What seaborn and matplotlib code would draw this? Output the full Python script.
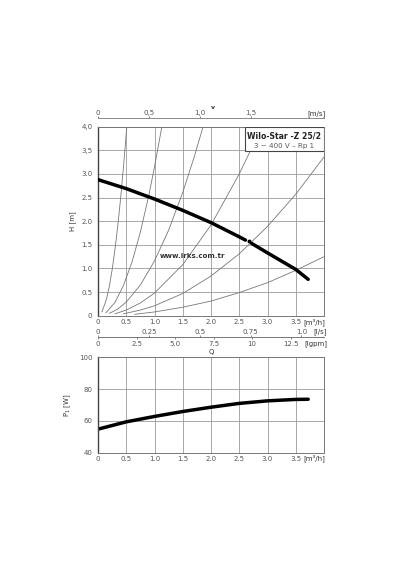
import numpy as np
import pandas as pd
import seaborn as sns
import matplotlib.pyplot as plt
from matplotlib.patches import Rectangle

# pump head curve (split where the drawing has a small break)
q_head_a = [0.0, 0.5, 1.0, 1.5, 2.0, 2.5, 2.61]
h_head_a = [2.88, 2.69, 2.47, 2.23, 1.97, 1.67, 1.60]
q_head_b = [2.72, 3.0, 3.5, 3.72]
h_head_b = [1.53, 1.33, 0.98, 0.77]
break_dot = (2.67, 1.59)

# system curves
sys_q = [
    [0.07, 0.15, 0.2, 0.25, 0.3, 0.35, 0.4, 0.45, 0.51],
    [0.14, 0.3, 0.45, 0.6, 0.75, 0.9, 1.0, 1.13],
    [0.2, 0.35, 0.5, 0.75, 1.0, 1.25, 1.5, 1.7, 1.86],
    [0.3, 0.5, 0.75, 1.0, 1.5, 2.0, 2.5, 2.9],
    [0.45, 0.75, 1.0, 1.5, 2.0, 2.5, 3.0, 3.5, 4.0],
    [0.65, 1.0, 1.5, 2.0, 2.5, 3.0, 3.5, 4.0],
]
sys_h = [
    [0.08, 0.35, 0.62, 0.97, 1.4, 1.9, 2.48, 3.14, 4.0],
    [0.06, 0.28, 0.64, 1.13, 1.77, 2.55, 3.15, 4.0],
    [0.05, 0.14, 0.29, 0.65, 1.16, 1.81, 2.61, 3.35, 4.0],
    [0.04, 0.12, 0.27, 0.48, 1.08, 1.92, 3.0, 4.0],
    [0.04, 0.12, 0.21, 0.47, 0.84, 1.31, 1.89, 2.57, 3.36],
    [0.03, 0.08, 0.18, 0.31, 0.49, 0.70, 0.96, 1.25],
]

# power input
q_power = [0.0, 0.5, 1.0, 1.5, 2.0, 2.5, 3.0, 3.5, 3.72]
p_power = [54.8, 59.4, 62.8, 65.9, 68.6, 71.0, 72.6, 73.5, 73.6]

q_ticks = [0, 0.5, 1.0, 1.5, 2.0, 2.5, 3.0, 3.5]
q_labels = ["0", "0.5", "1.0", "1.5", "2.0", "2.5", "3.0", "3.5"]
h_ticks = [0, 0.5, 1.0, 1.5, 2.0, 2.5, 3.0, 3.5, 4.0]
h_labels = ["0", "0.5", "1.0", "1.5", "2.0", "2.5", "3.0", "3,5", "4,0"]
ls_ticks = [0, 0.25, 0.5, 0.75, 1.0]
ls_labels = ["0", "0.25", "0.5", "0.75", "1.0"]
gpm_ticks = [0, 2.5, 5.0, 7.5, 10, 12.5]
gpm_labels = ["0", "2.5", "5.0", "7.5", "10", "12.5"]
ms_ticks = [0, 0.5, 1.0, 1.5]
ms_labels = ["0", "0,5", "1,0", "1,5"]
p_ticks = [40, 60, 80, 100]

sns.set_style("white")
plt.rcParams['font.family'] = ['DejaVu Sans']

fig = plt.figure(figsize=(4.0, 5.7), dpi=100)
ax = fig.add_axes([0.245, 0.4461, 0.565, 0.3316])
ax2 = fig.add_axes([0.245, 0.2058, 0.565, 0.1674])

grid_c = "#9a9a9a"
txt_c = "#555555"
fs = 5

for a in (ax, ax2):
    a.grid(True, color=grid_c, lw=0.6)
    for s in a.spines.values():
        s.set_color("#777777")
        s.set_linewidth(0.7)
    a.spines["left"].set_color("#444444")
    a.spines["left"].set_linewidth(1.0)
    a.tick_params(labelsize=fs, colors=txt_c, length=2, width=0.5, pad=2)
    a.tick_params(axis="x", length=0, pad=2.5)
    a.set_xlim(0, 4)
    a.set_xticks(q_ticks)
    a.set_xticklabels(q_labels)
    a.text(0.955, -0.012, "[m\u00b3/h]", transform=a.transAxes, fontsize=fs,
           color="#333333", ha="center", va="top")

# system curves
for qs, hs in zip(sys_q, sys_h):
    sns.lineplot(x=qs, y=hs, ax=ax, color="#777777", lw=0.6, sort=False,
                 estimator=None, zorder=2)

# pump curve
sns.lineplot(x=q_head_a, y=h_head_a, ax=ax, color="black", lw=2.5, sort=False,
             estimator=None, zorder=4)
sns.lineplot(x=q_head_b, y=h_head_b, ax=ax, color="black", lw=2.5, sort=False,
             estimator=None, zorder=4)
ax.plot([break_dot[0]], [break_dot[1]], "o", color="black", ms=1.8, zorder=4)

ax.set_ylim(0, 4)
ax.set_yticks(h_ticks)
ax.set_yticklabels(h_labels)
ax.set_xlabel("")
ax.set_ylabel("H [m]", fontsize=fs, color="#333333", labelpad=4)

# title box
ax.add_patch(Rectangle((0.65, 0.87), 0.35, 0.13, transform=ax.transAxes,
                       fc="white", ec="#444444", lw=0.8, zorder=6))
ax.text(0.825, 0.95, "Wilo-Star -Z 25/2", transform=ax.transAxes, fontsize=5.6,
        fontweight="bold", color="#222222", ha="center", va="center", zorder=7)
ax.text(0.825, 0.9, "3 ~ 400 V \u2013 Rp 1", transform=ax.transAxes, fontsize=5.1,
        color="#555555", ha="center", va="center", zorder=7)
ax.text(0.42, 0.315, "www.irks.com.tr", transform=ax.transAxes, fontsize=5,
        fontweight="bold", color="#333333", ha="center", va="center")

# secondary flow axes
sec_ls = ax.secondary_xaxis(-0.112, functions=(lambda q: q / 3.6, lambda v: v * 3.6))
sec_ls.set_alignment("top")
sec_gpm = ax.secondary_xaxis(-0.112, functions=(lambda q: q * 3.666, lambda v: v / 3.666))
sec_ms = ax.secondary_xaxis(1.044, functions=(lambda q: q / 1.8, lambda v: v * 1.8))
for sx, tk, lb, pd_ in ((sec_ls, ls_ticks, ls_labels, 0.5),
                        (sec_gpm, gpm_ticks, gpm_labels, 1.5),
                        (sec_ms, ms_ticks, ms_labels, 0.5)):
    sx.set_xticks(tk)
    sx.set_xticklabels(lb)
    sx.tick_params(labelsize=fs, colors=txt_c, length=1.2, width=0.5, pad=pd_)
    for s in sx.spines.values():
        s.set_color("#777777")
        s.set_linewidth(0.6)

ax.text(0.985, -0.085, "[l/s]", transform=ax.transAxes, fontsize=fs, color="#333333",
        ha="center", va="center")
ax.text(0.965, -0.15, "[lgpm]", transform=ax.transAxes, fontsize=fs, color="#333333",
        ha="center", va="center")
ax.text(0.968, 1.067, "[m/s]", transform=ax.transAxes, fontsize=fs, color="#333333",
        ha="center", va="center")
ax.text(0.51, 1.104, "v", transform=ax.transAxes, fontsize=4.5, fontweight="bold",
        color="#333333", ha="center", va="center")
ax.text(0.5, -0.193, "Q", transform=ax.transAxes, fontsize=fs, color="#333333",
        ha="center", va="center")

# power curve
sns.lineplot(x=q_power, y=p_power, ax=ax2, color="black", lw=2.5, sort=False,
             estimator=None)
ax2.set_ylim(40, 100)
ax2.set_yticks(p_ticks)
ax2.set_xlabel("")
ax2.set_ylabel("P$_1$ [W]", fontsize=fs, color="#333333", labelpad=4)

fig.savefig("out.png", dpi=100, facecolor="white")
